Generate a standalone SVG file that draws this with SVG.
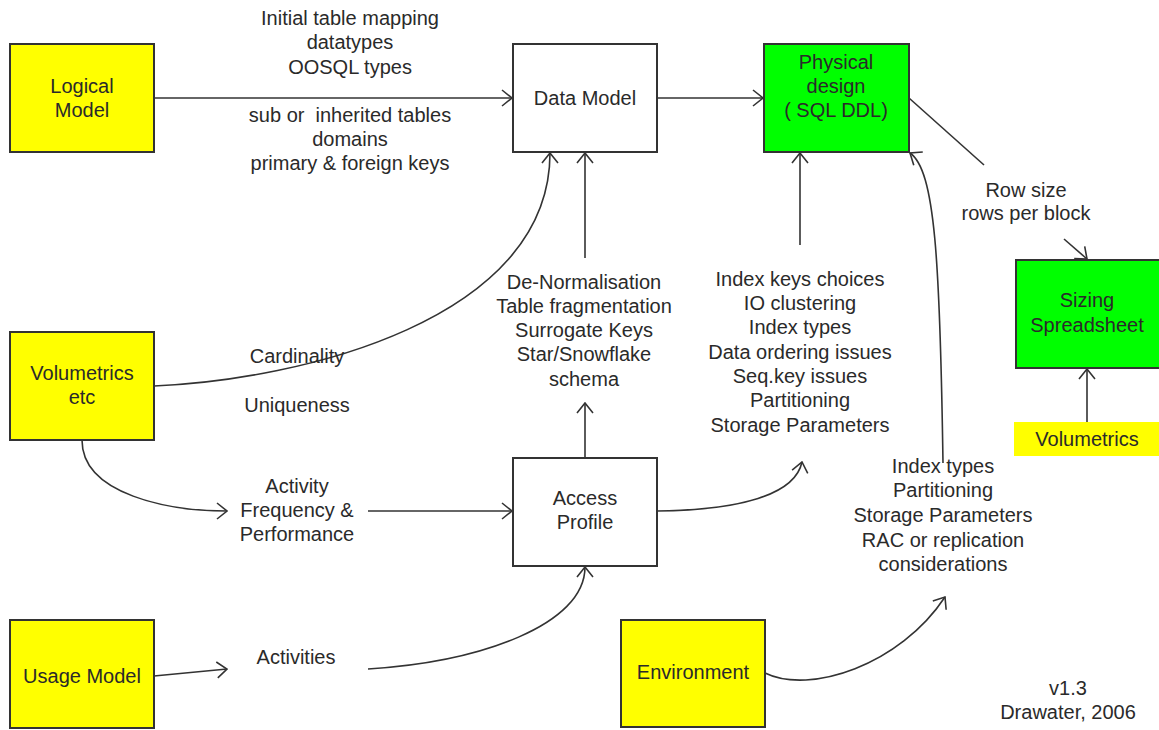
<svg xmlns="http://www.w3.org/2000/svg" width="1159" height="730" viewBox="0 0 1159 730">
<style>
text{font-family:"Liberation Sans",Arial,sans-serif;font-size:20px;fill:#2a2a2a;text-anchor:middle}
.box{stroke:#333;stroke-width:2}
.y{fill:#ffff00}
.g{fill:#00ff00}
.w{fill:#fff}
.c{fill:none;stroke:#333;stroke-width:1.6}
</style>
<defs>
<marker id="ah" viewBox="0 0 12 18" refX="11" refY="9" markerWidth="12" markerHeight="18" markerUnits="userSpaceOnUse" orient="auto">
<path d="M1,1 L11,9 L1,17" fill="none" stroke="#333" stroke-width="1.6"/>
</marker>
</defs>
<rect width="1159" height="730" fill="#fff"/>
<g id="connectors">
<path class="c" d="M154,98 L512,98" marker-end="url(#ah)"/>
<path class="c" d="M657,98 L763,98" marker-end="url(#ah)"/>
<path class="c" d="M154,386 C300,380 550,320 550,153" marker-end="url(#ah)"/>
<path class="c" d="M82,440 C82,495 170,511 227,511" marker-end="url(#ah)"/>
<path class="c" d="M368,511 L512,511" marker-end="url(#ah)"/>
<path class="c" d="M154,676 L227,669" marker-end="url(#ah)"/>
<path class="c" d="M368,669 C480,662 585,625 585,567" marker-end="url(#ah)"/>
<path class="c" d="M585,458 L585,403" marker-end="url(#ah)"/>
<path class="c" d="M585,258 L585,153" marker-end="url(#ah)"/>
<path class="c" d="M657,511 C740,510 795,495 802,462" marker-end="url(#ah)"/>
<path class="c" d="M800,245 L800,153" marker-end="url(#ah)"/>
<path class="c" d="M943,463 C940,260 935,170 910,153" marker-end="url(#ah)"/>
<path class="c" d="M765,673 C810,695 900,665 945,597" marker-end="url(#ah)"/>
<path class="c" d="M909,98 L984,165"/>
<path class="c" d="M1064,239 L1087,259" marker-end="url(#ah)"/>
<path class="c" d="M1087,422 L1087,369" marker-end="url(#ah)"/>
</g>
<g id="logical-model">
<rect class="box y" x="10" y="44" width="144" height="108"/>
<text x="82" y="93">Logical</text>
<text x="82" y="117">Model</text>
</g>
<g id="data-model">
<rect class="box w" x="513" y="44" width="144" height="108"/>
<text x="585" y="105">Data Model</text>
</g>
<g id="physical-design">
<rect class="box g" x="764" y="44" width="145" height="108"/>
<text x="836" y="69">Physical</text>
<text x="836" y="93">design</text>
<text x="836" y="117">( SQL DDL)</text>
</g>
<g id="volumetrics-etc">
<rect class="box y" x="10" y="332" width="144" height="108"/>
<text x="82" y="380">Volumetrics</text>
<text x="82" y="404">etc</text>
</g>
<g id="usage-model">
<rect class="box y" x="10" y="620" width="144" height="108"/>
<text x="82" y="683">Usage Model</text>
</g>
<g id="access-profile">
<rect class="box w" x="513" y="458" width="144" height="108"/>
<text x="585" y="505">Access</text>
<text x="585" y="529">Profile</text>
</g>
<g id="environment">
<rect class="box y" x="621" y="620" width="144" height="107"/>
<text x="693" y="679">Environment</text>
</g>
<g id="sizing-spreadsheet">
<rect class="box g" x="1016" y="260" width="145" height="108"/>
<text x="1087" y="307">Sizing</text>
<text x="1087" y="332">Spreadsheet</text>
</g>
<g id="volumetrics">
<rect class="y" x="1014" y="422" width="145" height="34"/>
<text x="1087" y="446">Volumetrics</text>
</g>
<g id="labels">
<text x="350" y="25">Initial table mapping</text>
<text x="350" y="49">datatypes</text>
<text x="350" y="74">OOSQL types</text>
<text x="350" y="122" xml:space="preserve">sub or  inherited tables</text>
<text x="350" y="146">domains</text>
<text x="350" y="170">primary &amp; foreign keys</text>
<text x="297" y="363">Cardinality</text>
<text x="297" y="412">Uniqueness</text>
<text x="297" y="493">Activity</text>
<text x="297" y="517">Frequency &amp;</text>
<text x="297" y="541">Performance</text>
<text x="296" y="664">Activities</text>
<text x="584" y="289">De-Normalisation</text>
<text x="584" y="313">Table fragmentation</text>
<text x="584" y="337">Surrogate Keys</text>
<text x="584" y="361">Star/Snowflake</text>
<text x="584" y="386">schema</text>
<text x="800" y="286">Index keys choices</text>
<text x="800" y="310">IO clustering</text>
<text x="800" y="334">Index types</text>
<text x="800" y="359">Data ordering issues</text>
<text x="800" y="383">Seq.key issues</text>
<text x="800" y="407">Partitioning</text>
<text x="800" y="432">Storage Parameters</text>
<text x="943" y="473">Index types</text>
<text x="943" y="497">Partitioning</text>
<text x="943" y="522">Storage Parameters</text>
<text x="943" y="547">RAC or replication</text>
<text x="943" y="571">considerations</text>
<text x="1026" y="197">Row size</text>
<text x="1026" y="220">rows per block</text>
<text x="1068" y="695">v1.3</text>
<text x="1068" y="719">Drawater, 2006</text>
</g>
</svg>
